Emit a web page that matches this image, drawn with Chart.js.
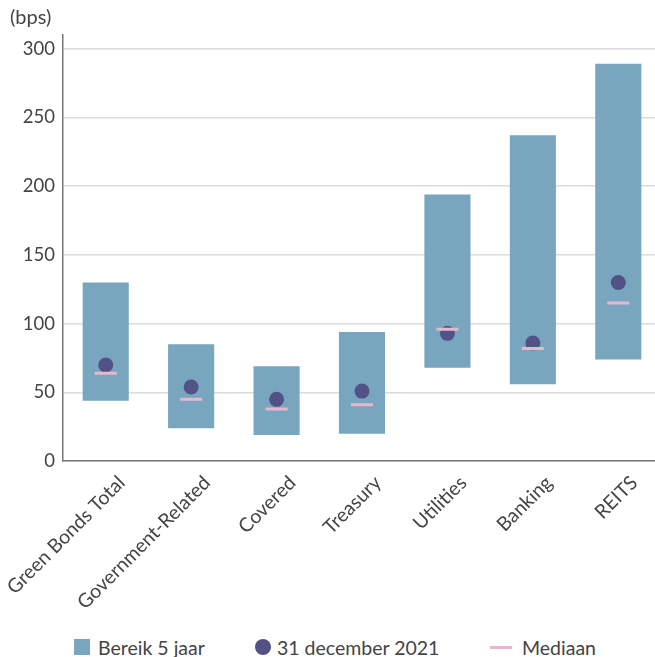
<!DOCTYPE html>
<html>
<head>
<meta charset="utf-8">
<script src="https://cdn.jsdelivr.net/npm/chart.js@4.4.1/dist/chart.umd.min.js"></script>
<style>
  body { margin:0; width:655px; height:657px; overflow:hidden; background:#fff; font-family:Lato, sans-serif; }
  #wrap { position:absolute; left:0; top:0; width:675px; height:622px; }
  #legenda { position:absolute; top:636px; left:0; width:655px; height:22px; font-size:19.5px; color:#444; }
  .item { position:absolute; top:0; display:flex; align-items:center; height:22px; }
  .item span.icone { display:inline-block; margin-right:8px; }
</style>
</head>
<body>
<div id="wrap"><canvas id="grafiek" width="675" height="622"></canvas></div>
<div id="legenda"></div>
<script>
// ================== Data ==================
const categorieen = ['Green Bonds Total','Government-Related','Covered','Treasury','Utilities','Banking','REITS'];
const bereikLaag  = [44, 24, 19, 20, 68, 56, 74];
const bereikHoog  = [130, 85, 69, 94, 194, 237, 289];
const stand2021   = [70, 54, 45, 51, 93, 86, 130];
const mediaan     = [64, 45, 38, 41, 96, 82, 115];
const yTicks      = [0, 50, 100, 150, 200, 250, 300];

const reeksNamen  = ['Bereik 5 jaar', '31 december 2021', 'Mediaan'];
const kleuren     = ['#79a6bf', '#525287', '#e8b6cd'];

// eenheid linksboven
const eenheidPlugin = {
  id: 'eenheid',
  afterDraw(chart) {
    const c = chart.ctx;
    c.save();
    c.font = '20px Lato';
    c.fillStyle = '#444';
    c.textBaseline = 'middle';
    c.fillText('(bps)', 10, 18);
    c.restore();
  }
};

// ================== Grafiek ==================
const ctx = document.getElementById('grafiek').getContext('2d');
new Chart(ctx, {
  type: 'bar',
  data: {
    labels: categorieen,
    datasets: [
      { label: reeksNamen[0], data: bereikLaag.map((l, i) => [l, bereikHoog[i]]), backgroundColor: kleuren[0],
        barPercentage: 0.54, categoryPercentage: 1, order: 3 },
      { type: 'line', label: reeksNamen[1], data: stand2021, showLine: false, pointStyle: 'circle',
        pointRadius: 7.5, pointBackgroundColor: kleuren[1], pointBorderWidth: 0, order: 2 },
      { type: 'line', label: reeksNamen[2], data: mediaan, showLine: false, pointStyle: 'line',
        pointRadius: 11, pointBorderColor: kleuren[2], pointBorderWidth: 3, order: 1 }
    ]
  },
  options: {
    responsive: false,
    animation: false,
    layout: { padding: { left: 6, top: 35, bottom: 6, right: 0 } },
    plugins: {
      legend: { display: false },
      tooltip: { enabled: false },
      title: { display: false }
    },
    scales: {
      x: {
        grid: { display: false },
        border: { display: true, color: '#777', width: 1.5 },
        ticks: { color: '#444', font: { family: 'Lato', size: 19.5 }, minRotation: 45, maxRotation: 45, padding: 2, labelOffset: 16 },
        afterFit: a => { a.paddingLeft = 0; a.paddingRight = 0; }
      },
      y: {
        min: 0, max: 310,
        afterBuildTicks: axis => { axis.ticks = yTicks.map(v => ({ value: v })); },
        afterFit: a => { a.width = 57; },
        grid: { color: '#dcdcdc', lineWidth: 1.5, drawTicks: false },
        border: { display: true, color: '#777', width: 1.5 },
        ticks: { color: '#444', font: { family: 'Lato', size: 18.5 }, padding: 8 }
      }
    }
  },
  plugins: [eenheidPlugin]
});

// ================== Legenda ==================
const legenda = document.getElementById('legenda');
const posities = [74, 255, 490];
reeksNamen.forEach((naam, i) => {
  const item = document.createElement('div');
  item.className = 'item';
  item.style.left = posities[i] + 'px';
  let icoon;
  if (i === 0) icoon = `<span class="icone" style="width:16px;height:16px;background:${kleuren[0]}"></span>`;
  else if (i === 1) icoon = `<span class="icone" style="width:16px;height:16px;border-radius:50%;background:${kleuren[1]};margin-right:6px"></span>`;
  else icoon = `<span class="icone" style="width:22px;height:3px;background:${kleuren[2]};margin-right:10px"></span>`;
  item.innerHTML = icoon + `<span>${naam}</span>`;
  legenda.appendChild(item);
});
</script>
</body>
</html>
